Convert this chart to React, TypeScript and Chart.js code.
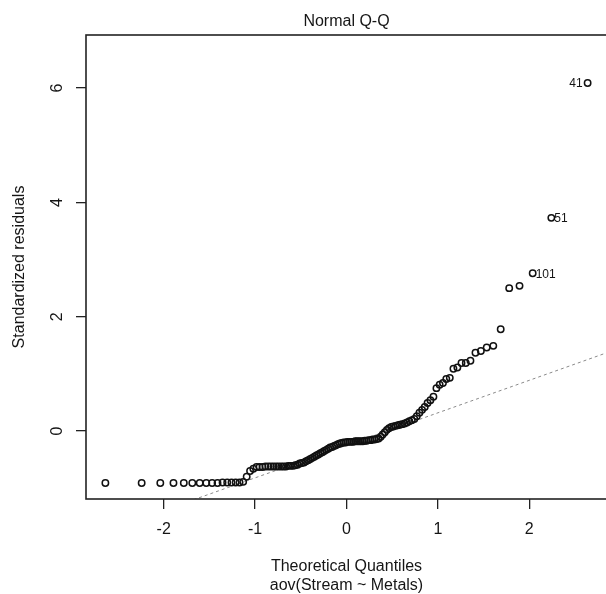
import React, { useEffect, useRef } from "react";
import { Chart, registerables } from "chart.js";

Chart.register(...registerables);

// ---- data ----
const THEORETICAL_QUANTILES = [
  -2.638, -2.241, -2.037, -1.893, -1.78, -1.687, -1.606, -1.534, -1.47, -1.411,
  -1.356, -1.305, -1.258, -1.213, -1.17, -1.13, -1.092, -1.055, -1.019, -0.984,
  -0.951, -0.918, -0.887, -0.856, -0.827, -0.798, -0.769, -0.742, -0.714, -0.688,
  -0.662, -0.636, -0.61, -0.585, -0.561, -0.536, -0.512, -0.489, -0.465, -0.442,
  -0.419, -0.396, -0.374, -0.352, -0.33, -0.308, -0.286, -0.264, -0.243, -0.221,
  -0.2, -0.179, -0.157, -0.136, -0.115, -0.094, -0.073, -0.052, -0.031, -0.01,
  0.01, 0.031, 0.052, 0.073, 0.094, 0.115, 0.136, 0.157, 0.179, 0.2,
  0.221, 0.243, 0.264, 0.286, 0.308, 0.33, 0.352, 0.374, 0.396, 0.419,
  0.442, 0.465, 0.489, 0.512, 0.536, 0.561, 0.585, 0.61, 0.636, 0.662,
  0.688, 0.714, 0.742, 0.769, 0.798, 0.827, 0.856, 0.887, 0.918, 0.951,
  0.984, 1.019, 1.055, 1.092, 1.13, 1.17, 1.213, 1.258, 1.305, 1.356,
  1.411, 1.47, 1.534, 1.606, 1.687, 1.78, 1.893, 2.037, 2.241, 2.638,
];

const STANDARDIZED_RESIDUALS = [
  -0.91, -0.91, -0.91, -0.91, -0.91, -0.91, -0.91, -0.91, -0.91, -0.91,
  -0.9, -0.9, -0.9, -0.9, -0.9, -0.89, -0.8, -0.7, -0.66, -0.63,
  -0.63, -0.63, -0.62, -0.62, -0.62, -0.62, -0.62, -0.62, -0.62, -0.62,
  -0.62, -0.61, -0.61, -0.61, -0.6, -0.59, -0.57, -0.56, -0.55, -0.53,
  -0.51, -0.49, -0.47, -0.45, -0.43, -0.41, -0.39, -0.37, -0.35, -0.33,
  -0.31, -0.29, -0.28, -0.26, -0.25, -0.23, -0.22, -0.21, -0.2, -0.2,
  -0.19, -0.19, -0.19, -0.19, -0.18, -0.18, -0.18, -0.18, -0.18, -0.17,
  -0.17, -0.16, -0.16, -0.15, -0.15, -0.14, -0.13, -0.1, -0.06, -0.02,
  0.02, 0.05, 0.07, 0.08, 0.09, 0.1, 0.11, 0.12, 0.13, 0.15,
  0.17, 0.19, 0.21, 0.26, 0.32, 0.37, 0.42, 0.49, 0.54, 0.6,
  0.75, 0.81, 0.84, 0.91, 0.93, 1.09, 1.11, 1.19, 1.19, 1.23,
  1.37, 1.4, 1.46, 1.49, 1.78, 2.5, 2.54, 2.76, 3.73, 6.09,
];

const X_TICKS = [-2, -1, 0, 1, 2];
const Y_TICKS = [0, 2, 4, 6];
const X_MIN = -2.85;
const X_MAX = 2.85;
const Y_MIN = -1.19;
const Y_MAX = 6.93;

const QQLINE_INTERCEPT = -0.251;
const QQLINE_SLOPE = 0.569;

const LABELLED_INDEX = [119, 118, 117];
const LABELLED_TEXT = ["41", "51", "101"];
const LABELLED_SIDE = ["left", "right", "right"];

const TITLE = "Normal Q-Q";
const X_TITLE_LINES = ["Theoretical Quantiles", "aov(Stream ~ Metals)"];
const Y_TITLE = "Standardized residuals";

const FONT = '"Liberation Sans", Arial, Helvetica, sans-serif';
const INK = "#151515";

export default function App() {
  const ref = useRef<HTMLCanvasElement | null>(null);

  useEffect(() => {
    const canvas = ref.current;
    if (!canvas) return;

    const points = THEORETICAL_QUANTILES.map((q, i) => ({ x: q, y: STANDARDIZED_RESIDUALS[i] }));
    const linePts = [X_MIN, X_MAX].map((x) => ({ x, y: QQLINE_INTERCEPT + QQLINE_SLOPE * x }));

    const overlay = {
      id: "rOverlay",
      afterDraw(chart: any) {
        const ctx = chart.ctx as CanvasRenderingContext2D;
        const area = chart.chartArea;
        const xs = chart.scales.x;
        const ys = chart.scales.y;
        ctx.save();
        // box
        ctx.strokeStyle = "#222";
        ctx.lineWidth = 1.6;
        ctx.strokeRect(area.left, area.top, area.right - area.left, area.bottom - area.top);

        ctx.fillStyle = INK;
        const cx = (area.left + area.right) / 2;
        // title
        ctx.font = `16px ${FONT}`;
        ctx.textAlign = "center";
        ctx.textBaseline = "middle";
        ctx.fillText(TITLE, cx, 22);

        // x title lines
        ctx.fillText(X_TITLE_LINES[0], cx, 567);
        ctx.fillText(X_TITLE_LINES[1], cx, 586);

        // y tick labels (rotated, parallel to axis)
        Y_TICKS.forEach((v) => {
          const py = ys.getPixelForValue(v);
          ctx.save();
          ctx.translate(58, py);
          ctx.rotate(-Math.PI / 2);
          ctx.fillText(String(v), 0, 0);
          ctx.restore();
        });

        // y title
        ctx.save();
        ctx.translate(20, (area.top + area.bottom) / 2);
        ctx.rotate(-Math.PI / 2);
        ctx.fillText(Y_TITLE, 0, 0);
        ctx.restore();

        // point id labels
        ctx.font = `12px ${FONT}`;
        LABELLED_INDEX.forEach((idx, k) => {
          const px = xs.getPixelForValue(THEORETICAL_QUANTILES[idx]);
          const py = ys.getPixelForValue(STANDARDIZED_RESIDUALS[idx]);
          if (LABELLED_SIDE[k] === "left") {
            ctx.textAlign = "right";
            ctx.fillText(LABELLED_TEXT[k], px - 5, py + 1);
          } else {
            ctx.textAlign = "left";
            ctx.fillText(LABELLED_TEXT[k], px + 3, py + 1);
          }
        });
        ctx.restore();
      },
    };

    const chart = new Chart(canvas, {
      type: "scatter",
      data: {
        datasets: [
          {
            type: "scatter",
            data: points,
            pointStyle: "circle",
            pointRadius: 3.2,
            pointBorderWidth: 1.5,
            pointBorderColor: "#111",
            pointBackgroundColor: "rgba(0,0,0,0)",
            order: 1,
          } as any,
          {
            type: "line",
            data: linePts,
            borderColor: "#8a8a8a",
            borderWidth: 1,
            borderDash: [3, 3],
            pointRadius: 0,
            fill: false,
            order: 2,
          } as any,
        ],
      },
      options: {
        responsive: false,
        animation: false,
        devicePixelRatio: 1,
        layout: { padding: { top: 35, right: 13, left: 0, bottom: 0 } },
        plugins: {
          legend: { display: false },
          tooltip: { enabled: false },
          title: { display: false },
        },
        scales: {
          x: {
            type: "linear",
            min: X_MIN,
            max: X_MAX,
            afterBuildTicks: (s: any) => {
              s.ticks = X_TICKS.map((v) => ({ value: v }));
            },
            afterFit: (s: any) => {
              s.height = 95;
            },
            grid: { drawOnChartArea: false, drawTicks: true, tickLength: 10, color: "#222", lineWidth: 1.3 },
            border: { display: false },
            ticks: {
              font: { family: FONT, size: 16 },
              color: INK,
              padding: 11,
              maxRotation: 0,
              minRotation: 0,
              autoSkip: false,
              callback: (v: any) => String(v),
            },
          },
          y: {
            type: "linear",
            min: Y_MIN,
            max: Y_MAX,
            afterBuildTicks: (s: any) => {
              s.ticks = Y_TICKS.map((v) => ({ value: v }));
            },
            afterFit: (s: any) => {
              s.width = 86;
            },
            grid: { drawOnChartArea: false, drawTicks: true, tickLength: 10, color: "#222", lineWidth: 1.3 },
            border: { display: false },
            ticks: { display: false },
          },
        },
      } as any,
      plugins: [overlay],
    });

    return () => chart.destroy();
  }, []);

  return (
    <div
      style={{
        position: "fixed",
        left: 0,
        top: 0,
        width: 606,
        height: 594,
        overflow: "hidden",
        background: "#fff",
      }}
    >
      <canvas ref={ref} width={620} height={594} style={{ display: "block", width: 620, height: 594 }} />
    </div>
  );
}
